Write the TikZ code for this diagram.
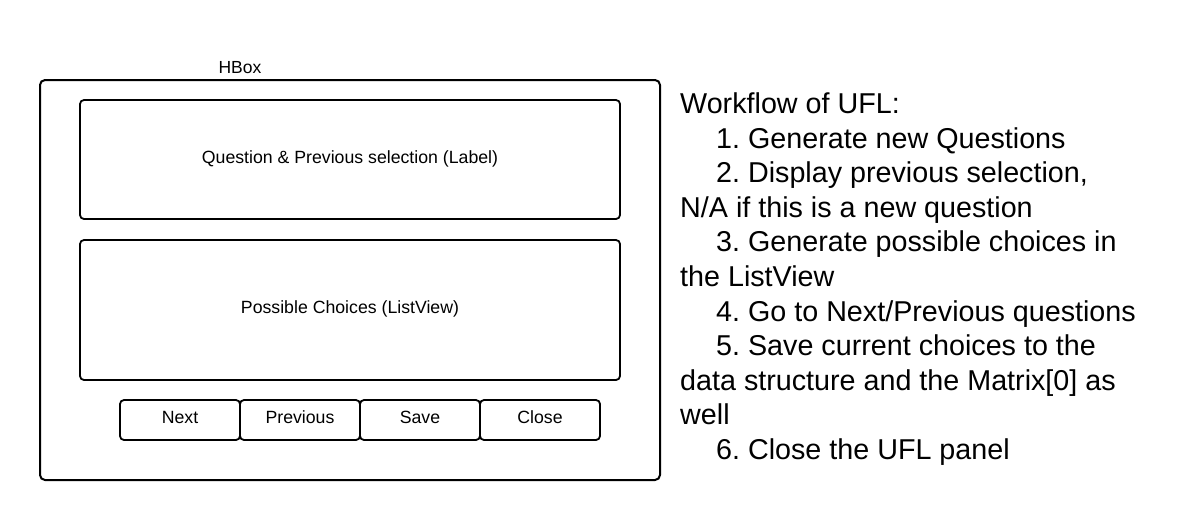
\documentclass[tikz,border=0pt]{standalone}
\usepackage{fontspec}
\setmainfont{Liberation Sans}
\frenchspacing
\begin{document}
\begin{tikzpicture}[x=1pt,y=-1pt,
  frame/.style={draw=black,line width=2pt,rounded corners=5pt,inner sep=0pt},
  box/.style={draw=black,line width=1.8pt,rounded corners=4pt,inner sep=0pt,
    text height=0.75em,text depth=0.05em,font=\fontsize{17.7}{21}\selectfont},
  small/.style={inner sep=0pt,font=\fontsize{17.5}{21}\selectfont},
  wline/.style={anchor=base west,inner sep=0pt,font=\fontsize{28.7}{34}\selectfont}]
\useasboundingbox[fill=white] (0,0) rectangle (1180,520);
\node[frame,minimum width=620pt,minimum height=400pt] (hbox) at (350,280) {};
\node[small] (hboxlabel) at (240,68) {HBox};
\node[box,minimum width=540pt,minimum height=119pt] (question) at (350,159.5) {Question \& Previous selection (Label)};
\node[box,minimum width=540pt,minimum height=140pt] (choices) at (350,310) {Possible Choices (ListView)};
\node[box,minimum width=120pt,minimum height=40pt] (next) at (180,420) {Next};
\node[box,minimum width=120pt,minimum height=40pt] (prev) at (300,420) {Previous};
\node[box,minimum width=120pt,minimum height=40pt] (save) at (420,420) {Save};
\node[box,minimum width=120pt,minimum height=40pt] (close) at (540,420) {Close};
\node[wline] (w1) at (680,113.5) {Workflow of UFL:};
\node[wline] (w2) at (716,148.1) {1. Generate new Questions};
\node[wline] (w3) at (716,182.7) {2. Display previous selection,};
\node[wline] (w4) at (680,217.3) {N/A if this is a new question};
\node[wline] (w5) at (716,251.9) {3. Generate possible choices in};
\node[wline] (w6) at (680,286.5) {the ListView};
\node[wline] (w7) at (716,321.1) {4. Go to Next/Previous questions};
\node[wline] (w8) at (716,355.7) {5. Save current choices to the};
\node[wline] (w9) at (680,390.3) {data structure and the Matrix[0] as};
\node[wline] (w10) at (680,424.9) {well};
\node[wline] (w11) at (716,459.5) {6. Close the UFL panel};
\end{tikzpicture}
\end{document}
